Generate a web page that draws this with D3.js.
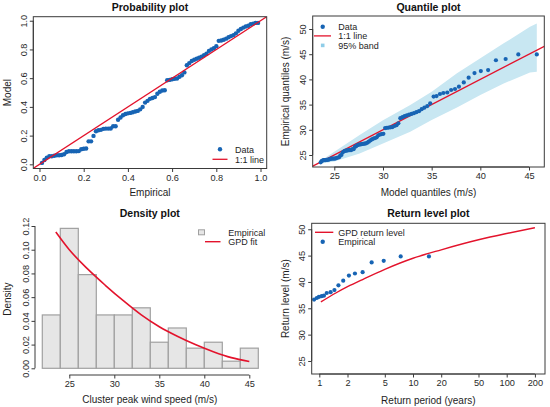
<!DOCTYPE html>
<html>
<head>
<meta charset="utf-8">
<script src="https://cdn.jsdelivr.net/npm/d3@7"></script>
<style>
  body { margin: 0; background: #fff; }
  svg text { font-family: "Liberation Sans", Arial, sans-serif; fill: #1e1e1e; }
</style>
</head>
<body>
<div id="chart"></div>
<script>
// sorted cluster peak wind speeds (empirical quantiles, m/s)
const windSpeed = [
  23.55, 23.8, 23.9, 24.0, 24.0, 24.0, 24.05, 24.05, 24.1, 24.15,
  24.25, 24.3, 24.3, 24.3, 24.3, 24.35, 24.45, 24.5, 24.55, 24.95,
  25.0, 25.5, 25.7, 25.8, 25.85, 25.9, 25.95, 25.95, 25.95, 26.15,
  26.15, 26.6, 26.75, 26.95, 27.05, 27.1, 27.15, 27.2, 27.25, 27.3,
  27.45, 27.65, 27.9, 28.1, 28.25, 28.35, 28.5, 28.9, 29.05, 29.15,
  29.2, 30.35, 30.4, 30.45, 30.5, 30.55, 30.75, 30.9, 31.3, 32.3,
  32.5, 32.7, 32.85, 33.0, 33.15, 33.3, 33.5, 33.7, 34.1, 34.4,
  34.7, 35.25, 36.6, 36.7, 37.1, 37.3, 37.4, 37.9, 38.1, 38.55,
  39.4, 40.35, 41.25, 41.65, 41.85, 43.8, 44.05, 44.95, 44.95
];
// GPD model quantiles for each ranked value
const modelQuantile = [
  23.60, 23.70, 23.79, 23.89, 23.99, 24.09, 24.20, 24.30, 24.40, 24.51,
  24.62, 24.72, 24.83, 24.94, 25.05, 25.16, 25.27, 25.39, 25.50, 25.62,
  25.73, 25.85, 25.97, 26.09, 26.21, 26.34, 26.46, 26.59, 26.72, 26.85,
  26.98, 27.11, 27.24, 27.38, 27.52, 27.66, 27.80, 27.95, 28.09, 28.24,
  28.39, 28.54, 28.70, 28.86, 29.02, 29.18, 29.35, 29.51, 29.69, 29.86,
  30.04, 30.22, 30.40, 30.59, 30.79, 30.98, 31.18, 31.39, 31.58, 31.78,
  32.0, 32.22, 32.45, 32.68, 32.93, 33.18, 33.43, 33.7, 33.97, 34.25,
  34.55, 34.85, 35.2, 35.5, 35.85, 36.2, 36.6, 37.0, 37.4, 37.8,
  38.3, 38.8, 39.4, 40.05, 40.8, 41.6, 42.6, 43.9, 45.8
];
// GPD model probabilities for each ranked value
const modelProb = [
  0.010, 0.030, 0.047, 0.056, 0.056, 0.060, 0.063, 0.063, 0.065, 0.070,
  0.086, 0.091, 0.091, 0.091, 0.091, 0.092, 0.105, 0.109, 0.110, 0.160,
  0.160, 0.198, 0.230, 0.237, 0.240, 0.247, 0.249, 0.249, 0.250, 0.265,
  0.265, 0.310, 0.326, 0.342, 0.350, 0.355, 0.358, 0.363, 0.368, 0.372,
  0.383, 0.400, 0.430, 0.442, 0.456, 0.462, 0.468, 0.492, 0.505, 0.514,
  0.516, 0.586, 0.588, 0.592, 0.596, 0.598, 0.610, 0.620, 0.640, 0.690,
  0.705, 0.720, 0.728, 0.735, 0.742, 0.750, 0.760, 0.770, 0.790, 0.800,
  0.808, 0.823, 0.860, 0.862, 0.868, 0.875, 0.885, 0.893, 0.900, 0.912,
  0.930, 0.942, 0.952, 0.960, 0.965, 0.975, 0.980, 0.985, 0.985
];

// 95% band of the quantile plot
const bandModel = [23.4, 25.0, 27.6, 30.0, 32.8, 35.0, 37.6, 40.0, 42.4, 45.1, 45.8];
const bandUpper = [23.6, 25.65, 28.95, 31.9, 34.9, 37.55, 41.2, 44.2, 47.15, 50.45, 51.1];
const bandLower = [23.2, 23.7, 25.3, 27.3, 29.6, 31.95, 34.45, 36.9, 39.2, 41.35, 41.5];

// histogram
const binEdges = [22, 24, 26, 28, 30, 32, 34, 36, 38, 40, 42, 44, 46];
const binDensity = [0.045, 0.118, 0.079, 0.045, 0.045, 0.051, 0.022, 0.034, 0.017, 0.022, 0.006, 0.017];
const fitSpeed = [23.5, 25, 27, 29, 31, 33, 35, 37, 39, 41, 43, 45];
const fitDensity = [0.115, 0.100, 0.084, 0.070, 0.057, 0.045, 0.035, 0.027, 0.020, 0.014, 0.009, 0.0057];

// return levels
const rlFitPeriod = [1.04, 1.5, 2, 3, 5, 10, 20, 50, 100, 200];
const rlFitLevel = [36.2, 37.9, 39.1, 40.6, 42.4, 44.5, 46.1, 48.0, 49.2, 50.3];
const rlEmpPeriod = [0.88, 0.94, 0.99, 1.06, 1.12, 1.2, 1.32, 1.45, 1.6, 1.8, 2.07, 2.4, 2.9, 3.62, 4.87, 7.39, 14.8];
const rlEmpLevel = [36.65, 36.95, 37.15, 37.3, 37.4, 37.9, 38.05, 38.45, 39.35, 40.25, 41.2, 41.6, 41.85, 43.7, 44.0, 44.85, 44.85];

// ticks
const probTicks = [0, 0.2, 0.4, 0.6, 0.8, 1.0];
const quantTicks = [25, 30, 35, 40, 45, 50];
const densXTicks = [25, 30, 35, 40, 45];
const densYTicks = [0, 0.02, 0.04, 0.06, 0.08, 0.10, 0.12];
const periodTicks = [1, 2, 5, 10, 20, 50, 100, 200];
const levelTicks = [25, 30, 35, 40, 45, 50];

const RED = '#e3132c', BLUE = '#1764b4', BAND = '#c8e7f2', AXIS = '#3a3a3a';

const svg = d3.select('#chart').append('svg')
    .attr('width', 550)
    .attr('height', 407);
svg.append('rect').attr('width', 550).attr('height', 407).attr('fill', '#fff');

let clipId = 0;
function clipFor(p) {
    const id = 'clip' + (clipId++);
    svg.append('clipPath').attr('id', id)
        .append('rect')
        .attr('x', p.l).attr('y', p.t)
        .attr('width', p.r - p.l).attr('height', p.b - p.t);
    return 'url(#' + id + ')';
}

// R-style axes: line only between first and last tick, ticks outward
function bottomAxis(scale, y, ticks, fmt) {
    const g = svg.append('g').attr('transform', 'translate(0,' + y + ')');
    g.call(d3.axisBottom(scale).tickValues(ticks).tickFormat(fmt).tickSize(3.5).tickSizeOuter(0));
    g.select('.domain').remove();
    g.append('line')
        .attr('x1', scale(ticks[0])).attr('x2', scale(ticks[ticks.length - 1]))
        .attr('stroke', AXIS);
    g.selectAll('.tick line').attr('stroke', AXIS);
    g.selectAll('.tick text')
        .attr('y', 5.5)
        .attr('font-size', 9.2)
        .attr('font-family', '"Liberation Sans", Arial, sans-serif')
        .style('fill', '#2a2a2a');
    return g;
}

function leftAxis(scale, x, ticks, fmt) {
    const g = svg.append('g').attr('transform', 'translate(' + x + ',0)');
    g.call(d3.axisLeft(scale).tickValues(ticks).tickFormat(fmt).tickSize(3.5).tickSizeOuter(0));
    g.select('.domain').remove();
    g.append('line')
        .attr('y1', scale(ticks[0])).attr('y2', scale(ticks[ticks.length - 1]))
        .attr('stroke', AXIS);
    g.selectAll('.tick line').attr('stroke', AXIS);
    g.selectAll('.tick text')
        .attr('transform', 'rotate(-90)')
        .attr('x', 0)
        .attr('y', -6.5)
        .attr('dy', 0)
        .attr('text-anchor', 'middle')
        .attr('font-size', 9.2)
        .attr('font-family', '"Liberation Sans", Arial, sans-serif')
        .style('fill', '#2a2a2a');
    return g;
}

function frame(p) {
    svg.append('rect')
        .attr('x', p.l).attr('y', p.t)
        .attr('width', p.r - p.l).attr('height', p.b - p.t)
        .attr('fill', 'none')
        .attr('stroke', AXIS)
        .attr('stroke-width', 1);
}

function labels(p, title, titleY, xlab, xlabY, ylab, ylabX) {
    const cx = (p.l + p.r) / 2, cy = (p.t + p.b) / 2;
    svg.append('text').attr('x', cx).attr('y', titleY)
        .attr('text-anchor', 'middle').attr('font-size', 10.5).attr('font-weight', 'bold')
        .style('fill', '#111').text(title);
    svg.append('text').attr('x', cx).attr('y', xlabY)
        .attr('text-anchor', 'middle').attr('font-size', 10).text(xlab);
    svg.append('text')
        .attr('transform', 'translate(' + ylabX + ',' + cy + ') rotate(-90)')
        .attr('text-anchor', 'middle').attr('font-size', 10).text(ylab);
}

function legendText(x, y, txt) {
    svg.append('text').attr('x', x).attr('y', y + 3.2).attr('font-size', 9).text(txt);
}

// ---------------- Probability plot ----------------
const p1 = { l: 33.3, r: 266.7, t: 16.7, b: 168.5 };
const x1 = d3.scaleLinear().domain([-0.028, 1.028]).range([p1.l, p1.r]);
const y1 = d3.scaleLinear().domain([-0.029, 1.028]).range([p1.b, p1.t]);
const n = windSpeed.length;

svg.append('g').selectAll('circle')
    .data(modelProb)
    .join('circle')
    .attr('cx', (d, i) => x1((i + 1) / (n + 1)))
    .attr('cy', d => y1(d))
    .attr('r', 2.2)
    .attr('fill', BLUE);

svg.append('line')
    .attr('clip-path', clipFor(p1))
    .attr('x1', x1(-0.1)).attr('y1', y1(-0.1))
    .attr('x2', x1(1.1)).attr('y2', y1(1.1))
    .attr('stroke', RED).attr('stroke-width', 1.3);

bottomAxis(x1, p1.b, probTicks, d3.format('.1f'));
leftAxis(y1, p1.l, probTicks, d3.format('.1f'));
frame(p1);
labels(p1, 'Probability plot', 11.2, 'Empirical', 196.3, 'Model', 10.9);

svg.append('circle').attr('cx', 220).attr('cy', 149.3).attr('r', 2.2).attr('fill', BLUE);
legendText(235, 149.3, 'Data');
svg.append('line').attr('x1', 212.5).attr('x2', 227.5).attr('y1', 159.3).attr('y2', 159.3)
    .attr('stroke', RED).attr('stroke-width', 1.3);
legendText(235, 159.3, '1:1 line');

// ---------------- Quantile plot ----------------
const p2 = { l: 312.7, r: 544.3, t: 16, b: 167 };
const x2 = d3.scaleLinear().domain([22.78, 46.57]).range([p2.l, p2.r]);
const y2 = d3.scaleLinear().domain([22.62, 52.58]).range([p2.b, p2.t]);
const clip2 = clipFor(p2);

svg.append('path')
    .datum(bandModel)
    .attr('clip-path', clip2)
    .attr('fill', BAND)
    .attr('d', d3.area()
        .x(d => x2(d))
        .y0((d, i) => y2(bandLower[i]))
        .y1((d, i) => y2(bandUpper[i])));

svg.append('line')
    .attr('clip-path', clip2)
    .attr('x1', x2(20)).attr('y1', y2(20))
    .attr('x2', x2(50)).attr('y2', y2(50))
    .attr('stroke', RED).attr('stroke-width', 1.3);

svg.append('g').selectAll('circle')
    .data(windSpeed)
    .join('circle')
    .attr('cx', (d, i) => x2(modelQuantile[i]))
    .attr('cy', d => y2(d))
    .attr('r', 2.1)
    .attr('fill', BLUE);

bottomAxis(x2, p2.b, quantTicks.slice(0, 5), d3.format('d'));
leftAxis(y2, p2.l, quantTicks, d3.format('d'));
frame(p2);
labels(p2, 'Quantile plot', 11.2, 'Model quantiles (m/s)', 196.3, 'Empirical quantiles (m/s)', 288.5);

svg.append('circle').attr('cx', 322.7).attr('cy', 26.7).attr('r', 2.2).attr('fill', BLUE);
legendText(338.3, 26.7, 'Data');
svg.append('line').attr('x1', 314).attr('x2', 331).attr('y1', 35.9).attr('y2', 35.9)
    .attr('stroke', RED).attr('stroke-width', 1.3);
legendText(338.3, 35.9, '1:1 line');
svg.append('rect').attr('x', 320.9).attr('y', 43.6).attr('width', 3.6).attr('height', 3.6)
    .attr('fill', '#8fcde8');
legendText(338.3, 45.4, '95% band');

// ---------------- Density plot ----------------
const p3 = { l: 33, r: 266.5, t: 223.3, b: 375 };
const x3 = d3.scaleLinear().domain([22, 46]).range([42.3, 258.3]);
const y3 = d3.scaleLinear().domain([0, 0.12]).range([368.3, 226]);

svg.append('g').selectAll('rect')
    .data(binDensity)
    .join('rect')
    .attr('x', (d, i) => x3(binEdges[i]))
    .attr('width', (d, i) => x3(binEdges[i + 1]) - x3(binEdges[i]))
    .attr('y', d => y3(d))
    .attr('height', d => y3(0) - y3(d))
    .attr('fill', '#e6e6e6')
    .attr('stroke', '#a0a0a0')
    .attr('stroke-width', 1.2);

svg.append('path')
    .datum(fitSpeed)
    .attr('fill', 'none')
    .attr('stroke', RED)
    .attr('stroke-width', 1.6)
    .attr('d', d3.line()
        .x(d => x3(d))
        .y((d, i) => y3(fitDensity[i]))
        .curve(d3.curveMonotoneX));

bottomAxis(x3, p3.b, densXTicks, d3.format('d'));
leftAxis(y3, 35, densYTicks, d3.format('.2f'));
labels(p3, 'Density plot', 217, 'Cluster peak wind speed (m/s)', 403, 'Density', 10.9);

svg.append('rect').attr('x', 198.5).attr('y', 229.8).attr('width', 6).attr('height', 5)
    .attr('fill', '#e6e6e6').attr('stroke', '#a0a0a0').attr('stroke-width', 1);
legendText(228.3, 232.3, 'Empirical');
svg.append('line').attr('x1', 205).attr('x2', 220.5).attr('y1', 241.7).attr('y2', 241.7)
    .attr('stroke', RED).attr('stroke-width', 1.4);
legendText(228.3, 241.7, 'GPD fit');

// ---------------- Return level plot ----------------
const p4 = { l: 311.7, r: 545, t: 223.3, b: 374 };
const x4 = d3.scaleLog().domain([0.8295, 256.3]).range([p4.l, p4.r]);
const y4 = d3.scaleLinear().domain([22.53, 51.13]).range([p4.b, p4.t]);

svg.append('path')
    .datum(rlFitPeriod)
    .attr('clip-path', clipFor(p4))
    .attr('fill', 'none')
    .attr('stroke', RED)
    .attr('stroke-width', 1.4)
    .attr('d', d3.line()
        .x(d => x4(d))
        .y((d, i) => y4(rlFitLevel[i]))
        .curve(d3.curveMonotoneX));

svg.append('g').selectAll('circle')
    .data(rlEmpPeriod)
    .join('circle')
    .attr('cx', d => x4(d))
    .attr('cy', (d, i) => y4(rlEmpLevel[i]))
    .attr('r', 2.1)
    .attr('fill', BLUE);

bottomAxis(x4, p4.b, periodTicks, d3.format('d'));
leftAxis(y4, p4.l, levelTicks, d3.format('d'));
frame(p4);
labels(p4, 'Return level plot', 217, 'Return period (years)', 403.6, 'Return level (m/s)', 288.5);

svg.append('line').attr('x1', 315).attr('x2', 333.3).attr('y1', 232.3).attr('y2', 232.3)
    .attr('stroke', RED).attr('stroke-width', 1.4);
legendText(338.3, 232.3, 'GPD return level');
svg.append('circle').attr('cx', 322.7).attr('cy', 241.7).attr('r', 2.2).attr('fill', BLUE);
legendText(338.3, 241.7, 'Empirical');
</script>
</body>
</html>
